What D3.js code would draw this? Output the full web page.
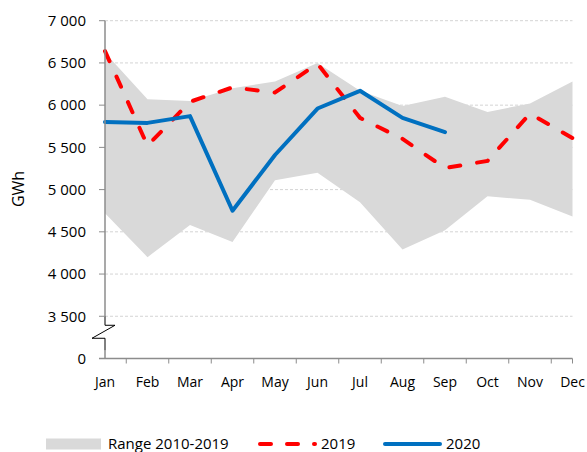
<!DOCTYPE html>
<html>
<head>
<meta charset="utf-8">
<script src="https://cdn.jsdelivr.net/npm/d3@7"></script>
<style>
  body { margin: 0; background: #fff; }
  svg { font-family: "Open Sans", "Noto Sans", sans-serif; }
</style>
</head>
<body>
<svg id="chart" width="587" height="452"></svg>
<script>
const months = ["Jan","Feb","Mar","Apr","May","Jun","Jul","Aug","Sep","Oct","Nov","Dec"];
const rangeHigh = [6620, 6070, 6050, 6200, 6280, 6500, 6170, 5990, 6100, 5920, 6020, 6280];
const rangeLow  = [4720, 4200, 4580, 4380, 5110, 5200, 4850, 4290, 4520, 4920, 4880, 4680];
const values2019 = [6640, 5520, 6040, 6210, 6150, 6490, 5850, 5600, 5255, 5340, 5900, 5610];
const values2020 = [5800, 5790, 5870, 4750, 5410, 5960, 6170, 5850, 5680];
const yTicks = [3000, 3500, 4000, 4500, 5000, 5500, 6000, 6500, 7000];

const svg = d3.select("#chart");
const plotLeft = 105, plotRight = 572.5, plotTop = 20.7, plotBottom = 358.5;

const x = d3.scalePoint().domain(months).range([plotLeft, plotRight]);
const y = d3.scaleLinear().domain([3000, 7000]).range([plotBottom, plotTop]);

const fmt = d3.formatLocale({ decimal: ",", thousands: " ", grouping: [3], currency: ["", ""] }).format(",");

// gridlines
svg.append("g")
  .selectAll("line")
  .data(yTicks.filter(d => d > 3000))
  .join("line")
  .attr("x1", plotLeft).attr("x2", plotRight)
  .attr("y1", d => y(d)).attr("y2", d => y(d))
  .attr("stroke", "#d4d4d4")
  .attr("stroke-width", 1)
  .attr("stroke-dasharray", "3,2");

// range band
const band = months.map((m, i) => ({ m, lo: rangeLow[i], hi: rangeHigh[i] }));
svg.append("path")
  .datum(band)
  .attr("fill", "#d9d9d9")
  .attr("d", d3.area().x(d => x(d.m)).y0(d => y(d.lo)).y1(d => y(d.hi)));

// 2019 dashed
svg.append("path")
  .datum(values2019)
  .attr("fill", "none")
  .attr("stroke", "#ff0000")
  .attr("stroke-width", 4)
  .attr("stroke-linecap", "round")
  .attr("stroke-dasharray", "11,17")
  .attr("d", d3.line().x((d, i) => x(months[i])).y(d => y(d)));

// 2020 solid
svg.append("path")
  .datum(values2020)
  .attr("fill", "none")
  .attr("stroke", "#0070c0")
  .attr("stroke-width", 4)
  .attr("stroke-linecap", "round")
  .attr("stroke-linejoin", "round")
  .attr("d", d3.line().x((d, i) => x(months[i])).y(d => y(d)));

// y axis
const axisColor = "#8c8c8c";
const brkTop = y(3500) + 9, brkBot = y(3500) + 22;
svg.append("line")
  .attr("x1", plotLeft).attr("x2", plotLeft).attr("y1", plotTop).attr("y2", y(3500))
  .attr("stroke", axisColor).attr("stroke-width", 1.5);
svg.append("line")
  .attr("x1", plotLeft).attr("x2", plotLeft).attr("y1", brkBot + 12).attr("y2", plotBottom)
  .attr("stroke", axisColor).attr("stroke-width", 1.5);
// break symbol
svg.append("path")
  .attr("fill", "none")
  .attr("stroke", "#000")
  .attr("stroke-width", 1)
  .attr("d", `M${plotLeft},${y(3500)} V${brkTop} H${plotLeft + 10} L${plotLeft - 13},${brkBot} H${plotLeft} V${brkBot + 12}`);

svg.append("g")
  .selectAll("line")
  .data(yTicks)
  .join("line")
  .attr("x1", plotLeft - 6).attr("x2", plotLeft)
  .attr("y1", d => y(d)).attr("y2", d => y(d))
  .attr("stroke", axisColor).attr("stroke-width", 1);

svg.append("g")
  .selectAll("text")
  .data(yTicks)
  .join("text")
  .attr("x", 86)
  .attr("y", d => y(d))
  .attr("dy", "0.35em")
  .attr("text-anchor", "end")
  .attr("font-size", "15px")
  .attr("fill", "#000")
  .text(d => d === 3000 ? "0" : fmt(d));

// x axis
svg.append("line")
  .attr("x1", plotLeft - 6).attr("x2", plotRight)
  .attr("y1", plotBottom).attr("y2", plotBottom)
  .attr("stroke", axisColor).attr("stroke-width", 1.5);

const step = x.step();
const xTickPos = months.slice(1).map(m => x(m) - step / 2).concat([plotRight]);
svg.append("g")
  .selectAll("line")
  .data(xTickPos)
  .join("line")
  .attr("x1", d => d).attr("x2", d => d)
  .attr("y1", plotBottom).attr("y2", plotBottom + 5)
  .attr("stroke", axisColor).attr("stroke-width", 1);

svg.append("g")
  .selectAll("text")
  .data(months)
  .join("text")
  .attr("x", d => x(d))
  .attr("y", 382)
  .attr("dy", "0.35em")
  .attr("text-anchor", "middle")
  .attr("font-size", "14px")
  .attr("fill", "#000")
  .text(d => d);

// y label
svg.append("text")
  .attr("transform", "translate(18,189) rotate(-90)")
  .attr("text-anchor", "middle")
  .attr("dy", "0.35em")
  .attr("font-size", "16px")
  .attr("fill", "#000")
  .text("GWh");

// legend
const legY = 444;
const leg = svg.append("g").attr("font-size", "15px").attr("fill", "#000");
leg.append("rect").attr("x", 46).attr("y", legY - 5.5).attr("width", 55).attr("height", 11).attr("fill", "#d9d9d9");
leg.append("text").attr("x", 108).attr("y", legY).attr("dy", "0.35em").text("Range 2010-2019");
leg.append("line")
  .attr("x1", 260).attr("x2", 315).attr("y1", legY).attr("y2", legY)
  .attr("stroke", "#ff0000").attr("stroke-width", 4).attr("stroke-linecap", "round")
  .attr("stroke-dasharray", "11,16");
leg.append("text").attr("x", 321).attr("y", legY).attr("dy", "0.35em").text("2019");
leg.append("line")
  .attr("x1", 385).attr("x2", 440).attr("y1", legY).attr("y2", legY)
  .attr("stroke", "#0070c0").attr("stroke-width", 4).attr("stroke-linecap", "round");
leg.append("text").attr("x", 446).attr("y", legY).attr("dy", "0.35em").text("2020");
</script>
</body>
</html>
